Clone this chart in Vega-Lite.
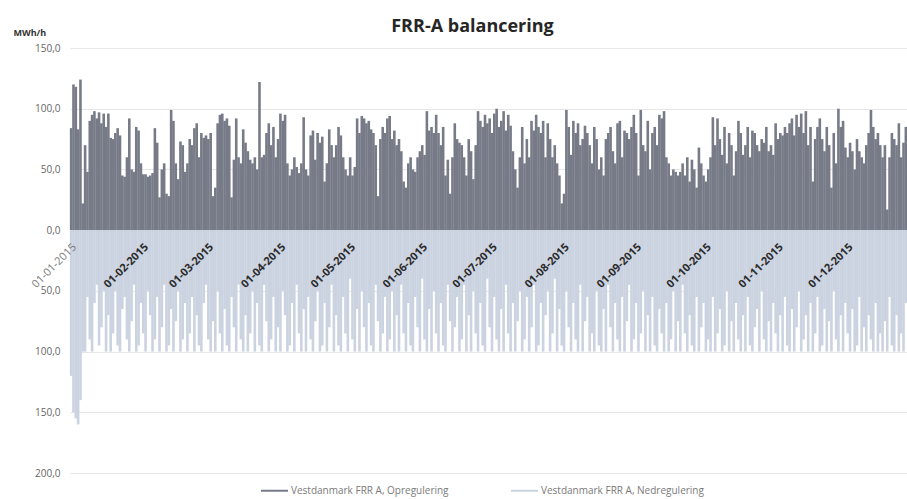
{
"$schema":"https://vega.github.io/schema/vega-lite/v6.json",
"width":837,"height":425,
"autosize":"none",
"padding":{"left":70,"top":48,"right":0,"bottom":26},
"background":"white",
"title":{"text":"FRR-A balancering","font":"Open Sans","fontSize":18,"fontWeight":"bold","color":"#262626","anchor":"middle","dx":-16,"offset":-8},
"data":{"values":[
{"d":"2015-01-01","u":84,"n":-120},{"d":"2015-01-02","u":120,"n":-150},{"d":"2015-01-03","u":118,"n":-155},{"d":"2015-01-04","u":83,"n":-160},{"d":"2015-01-05","u":124,"n":-140},{"d":"2015-01-06","u":22,"n":-100},{"d":"2015-01-07","u":70,"n":-100},{"d":"2015-01-08","u":48,"n":-55},{"d":"2015-01-09","u":90,"n":-90},{"d":"2015-01-10","u":95,"n":-100},{"d":"2015-01-11","u":98,"n":-60},{"d":"2015-01-12","u":92,"n":-45},{"d":"2015-01-13","u":97,"n":-95},{"d":"2015-01-14","u":88,"n":-80},{"d":"2015-01-15","u":96,"n":-50},{"d":"2015-01-16","u":85,"n":-100},{"d":"2015-01-17","u":96,"n":-70},{"d":"2015-01-18","u":76,"n":-100},{"d":"2015-01-19","u":75,"n":-85},{"d":"2015-01-20","u":80,"n":-50},{"d":"2015-01-21","u":84,"n":-95},{"d":"2015-01-22","u":78,"n":-100},{"d":"2015-01-23","u":45,"n":-65},{"d":"2015-01-24","u":44,"n":-55},{"d":"2015-01-25","u":60,"n":-90},{"d":"2015-01-26","u":92,"n":-100},{"d":"2015-01-27","u":50,"n":-75},{"d":"2015-01-28","u":48,"n":-45},{"d":"2015-01-29","u":85,"n":-100},{"d":"2015-01-30","u":82,"n":-95},{"d":"2015-01-31","u":55,"n":-60},
{"d":"2015-02-01","u":46,"n":-85},{"d":"2015-02-02","u":46,"n":-100},{"d":"2015-02-03","u":44,"n":-50},{"d":"2015-02-04","u":45,"n":-70},{"d":"2015-02-05","u":47,"n":-100},{"d":"2015-02-06","u":84,"n":-90},{"d":"2015-02-07","u":72,"n":-55},{"d":"2015-02-08","u":27,"n":-100},{"d":"2015-02-09","u":50,"n":-80},{"d":"2015-02-10","u":55,"n":-45},{"d":"2015-02-11","u":30,"n":-100},{"d":"2015-02-12","u":28,"n":-95},{"d":"2015-02-13","u":99,"n":-65},{"d":"2015-02-14","u":90,"n":-100},{"d":"2015-02-15","u":55,"n":-75},{"d":"2015-02-16","u":42,"n":-50},{"d":"2015-02-17","u":73,"n":-100},{"d":"2015-02-18","u":70,"n":-90},{"d":"2015-02-19","u":48,"n":-60},{"d":"2015-02-20","u":55,"n":-100},{"d":"2015-02-21","u":75,"n":-85},{"d":"2015-02-22","u":70,"n":-55},{"d":"2015-02-23","u":84,"n":-100},{"d":"2015-02-24","u":88,"n":-70},{"d":"2015-02-25","u":60,"n":-95},{"d":"2015-02-26","u":80,"n":-100},{"d":"2015-02-27","u":76,"n":-60},{"d":"2015-02-28","u":78,"n":-45},
{"d":"2015-03-01","u":75,"n":-90},{"d":"2015-03-02","u":80,"n":-100},{"d":"2015-03-03","u":28,"n":-75},{"d":"2015-03-04","u":35,"n":-100},{"d":"2015-03-05","u":88,"n":-50},{"d":"2015-03-06","u":95,"n":-85},{"d":"2015-03-07","u":96,"n":-100},{"d":"2015-03-08","u":90,"n":-65},{"d":"2015-03-09","u":92,"n":-95},{"d":"2015-03-10","u":86,"n":-100},{"d":"2015-03-11","u":27,"n":-55},{"d":"2015-03-12","u":58,"n":-80},{"d":"2015-03-13","u":92,"n":-100},{"d":"2015-03-14","u":60,"n":-45},{"d":"2015-03-15","u":55,"n":-90},{"d":"2015-03-16","u":83,"n":-100},{"d":"2015-03-17","u":72,"n":-70},{"d":"2015-03-18","u":65,"n":-100},{"d":"2015-03-19","u":58,"n":-85},{"d":"2015-03-20","u":55,"n":-50},{"d":"2015-03-21","u":60,"n":-100},{"d":"2015-03-22","u":50,"n":-60},{"d":"2015-03-23","u":122,"n":-95},{"d":"2015-03-24","u":60,"n":-100},{"d":"2015-03-25","u":62,"n":-45},{"d":"2015-03-26","u":80,"n":-75},{"d":"2015-03-27","u":88,"n":-100},{"d":"2015-03-28","u":70,"n":-90},{"d":"2015-03-29","u":85,"n":-55},{"d":"2015-03-30","u":60,"n":-100},{"d":"2015-03-31","u":75,"n":-80},
{"d":"2015-04-01","u":96,"n":-100},{"d":"2015-04-02","u":90,"n":-50},{"d":"2015-04-03","u":95,"n":-70},{"d":"2015-04-04","u":55,"n":-100},{"d":"2015-04-05","u":45,"n":-95},{"d":"2015-04-06","u":50,"n":-60},{"d":"2015-04-07","u":60,"n":-100},{"d":"2015-04-08","u":52,"n":-45},{"d":"2015-04-09","u":47,"n":-85},{"d":"2015-04-10","u":55,"n":-100},{"d":"2015-04-11","u":93,"n":-65},{"d":"2015-04-12","u":50,"n":-100},{"d":"2015-04-13","u":45,"n":-55},{"d":"2015-04-14","u":78,"n":-90},{"d":"2015-04-15","u":82,"n":-100},{"d":"2015-04-16","u":58,"n":-75},{"d":"2015-04-17","u":80,"n":-50},{"d":"2015-04-18","u":72,"n":-100},{"d":"2015-04-19","u":77,"n":-95},{"d":"2015-04-20","u":40,"n":-60},{"d":"2015-04-21","u":55,"n":-100},{"d":"2015-04-22","u":83,"n":-80},{"d":"2015-04-23","u":70,"n":-45},{"d":"2015-04-24","u":60,"n":-100},{"d":"2015-04-25","u":70,"n":-70},{"d":"2015-04-26","u":85,"n":-95},{"d":"2015-04-27","u":78,"n":-100},{"d":"2015-04-28","u":60,"n":-55},{"d":"2015-04-29","u":50,"n":-85},{"d":"2015-04-30","u":45,"n":-100},
{"d":"2015-05-01","u":60,"n":-40},{"d":"2015-05-02","u":45,"n":-90},{"d":"2015-05-03","u":52,"n":-100},{"d":"2015-05-04","u":92,"n":-65},{"d":"2015-05-05","u":80,"n":-100},{"d":"2015-05-06","u":94,"n":-50},{"d":"2015-05-07","u":92,"n":-80},{"d":"2015-05-08","u":88,"n":-100},{"d":"2015-05-09","u":90,"n":-60},{"d":"2015-05-10","u":83,"n":-95},{"d":"2015-05-11","u":80,"n":-100},{"d":"2015-05-12","u":70,"n":-45},{"d":"2015-05-13","u":28,"n":-75},{"d":"2015-05-14","u":75,"n":-100},{"d":"2015-05-15","u":85,"n":-85},{"d":"2015-05-16","u":80,"n":-55},{"d":"2015-05-17","u":92,"n":-100},{"d":"2015-05-18","u":94,"n":-90},{"d":"2015-05-19","u":75,"n":-50},{"d":"2015-05-20","u":82,"n":-100},{"d":"2015-05-21","u":70,"n":-70},{"d":"2015-05-22","u":75,"n":-100},{"d":"2015-05-23","u":65,"n":-45},{"d":"2015-05-24","u":40,"n":-85},{"d":"2015-05-25","u":35,"n":-100},{"d":"2015-05-26","u":55,"n":-60},{"d":"2015-05-27","u":60,"n":-95},{"d":"2015-05-28","u":50,"n":-100},{"d":"2015-05-29","u":48,"n":-55},{"d":"2015-05-30","u":60,"n":-80},{"d":"2015-05-31","u":65,"n":-100},
{"d":"2015-06-01","u":70,"n":-40},{"d":"2015-06-02","u":62,"n":-90},{"d":"2015-06-03","u":98,"n":-100},{"d":"2015-06-04","u":82,"n":-65},{"d":"2015-06-05","u":85,"n":-100},{"d":"2015-06-06","u":80,"n":-50},{"d":"2015-06-07","u":95,"n":-85},{"d":"2015-06-08","u":80,"n":-100},{"d":"2015-06-09","u":70,"n":-60},{"d":"2015-06-10","u":85,"n":-95},{"d":"2015-06-11","u":45,"n":-100},{"d":"2015-06-12","u":58,"n":-45},{"d":"2015-06-13","u":30,"n":-75},{"d":"2015-06-14","u":60,"n":-100},{"d":"2015-06-15","u":88,"n":-80},{"d":"2015-06-16","u":75,"n":-55},{"d":"2015-06-17","u":72,"n":-100},{"d":"2015-06-18","u":70,"n":-90},{"d":"2015-06-19","u":60,"n":-45},{"d":"2015-06-20","u":45,"n":-100},{"d":"2015-06-21","u":75,"n":-70},{"d":"2015-06-22","u":65,"n":-100},{"d":"2015-06-23","u":42,"n":-50},{"d":"2015-06-24","u":70,"n":-85},{"d":"2015-06-25","u":98,"n":-100},{"d":"2015-06-26","u":90,"n":-60},{"d":"2015-06-27","u":85,"n":-95},{"d":"2015-06-28","u":95,"n":-100},{"d":"2015-06-29","u":88,"n":-40},{"d":"2015-06-30","u":92,"n":-80},
{"d":"2015-07-01","u":80,"n":-100},{"d":"2015-07-02","u":96,"n":-55},{"d":"2015-07-03","u":100,"n":-90},{"d":"2015-07-04","u":85,"n":-100},{"d":"2015-07-05","u":90,"n":-65},{"d":"2015-07-06","u":98,"n":-100},{"d":"2015-07-07","u":82,"n":-45},{"d":"2015-07-08","u":95,"n":-85},{"d":"2015-07-09","u":86,"n":-100},{"d":"2015-07-10","u":65,"n":-60},{"d":"2015-07-11","u":50,"n":-100},{"d":"2015-07-12","u":35,"n":-75},{"d":"2015-07-13","u":60,"n":-50},{"d":"2015-07-14","u":85,"n":-100},{"d":"2015-07-15","u":55,"n":-90},{"d":"2015-07-16","u":75,"n":-55},{"d":"2015-07-17","u":60,"n":-100},{"d":"2015-07-18","u":90,"n":-80},{"d":"2015-07-19","u":82,"n":-45},{"d":"2015-07-20","u":95,"n":-100},{"d":"2015-07-21","u":85,"n":-95},{"d":"2015-07-22","u":80,"n":-60},{"d":"2015-07-23","u":90,"n":-100},{"d":"2015-07-24","u":60,"n":-70},{"d":"2015-07-25","u":88,"n":-50},{"d":"2015-07-26","u":75,"n":-100},{"d":"2015-07-27","u":60,"n":-85},{"d":"2015-07-28","u":70,"n":-40},{"d":"2015-07-29","u":55,"n":-100},{"d":"2015-07-30","u":45,"n":-65},{"d":"2015-07-31","u":22,"n":-95},
{"d":"2015-08-01","u":30,"n":-100},{"d":"2015-08-02","u":99,"n":-50},{"d":"2015-08-03","u":85,"n":-80},{"d":"2015-08-04","u":62,"n":-100},{"d":"2015-08-05","u":90,"n":-60},{"d":"2015-08-06","u":80,"n":-90},{"d":"2015-08-07","u":88,"n":-100},{"d":"2015-08-08","u":70,"n":-45},{"d":"2015-08-09","u":75,"n":-100},{"d":"2015-08-10","u":86,"n":-75},{"d":"2015-08-11","u":80,"n":-55},{"d":"2015-08-12","u":70,"n":-100},{"d":"2015-08-13","u":55,"n":-85},{"d":"2015-08-14","u":85,"n":-100},{"d":"2015-08-15","u":75,"n":-50},{"d":"2015-08-16","u":50,"n":-95},{"d":"2015-08-17","u":60,"n":-100},{"d":"2015-08-18","u":45,"n":-65},{"d":"2015-08-19","u":75,"n":-100},{"d":"2015-08-20","u":80,"n":-45},{"d":"2015-08-21","u":85,"n":-80},{"d":"2015-08-22","u":65,"n":-100},{"d":"2015-08-23","u":55,"n":-60},{"d":"2015-08-24","u":88,"n":-90},{"d":"2015-08-25","u":90,"n":-100},{"d":"2015-08-26","u":60,"n":-55},{"d":"2015-08-27","u":82,"n":-100},{"d":"2015-08-28","u":80,"n":-75},{"d":"2015-08-29","u":75,"n":-45},{"d":"2015-08-30","u":85,"n":-100},{"d":"2015-08-31","u":95,"n":-90},
{"d":"2015-09-01","u":80,"n":-60},{"d":"2015-09-02","u":45,"n":-100},{"d":"2015-09-03","u":99,"n":-85},{"d":"2015-09-04","u":70,"n":-50},{"d":"2015-09-05","u":65,"n":-100},{"d":"2015-09-06","u":90,"n":-70},{"d":"2015-09-07","u":50,"n":-100},{"d":"2015-09-08","u":80,"n":-55},{"d":"2015-09-09","u":85,"n":-95},{"d":"2015-09-10","u":70,"n":-100},{"d":"2015-09-11","u":95,"n":-65},{"d":"2015-09-12","u":92,"n":-85},{"d":"2015-09-13","u":98,"n":-100},{"d":"2015-09-14","u":60,"n":-60},{"d":"2015-09-15","u":55,"n":-100},{"d":"2015-09-16","u":45,"n":-90},{"d":"2015-09-17","u":50,"n":-50},{"d":"2015-09-18","u":48,"n":-100},{"d":"2015-09-19","u":45,"n":-75},{"d":"2015-09-20","u":48,"n":-100},{"d":"2015-09-21","u":55,"n":-45},{"d":"2015-09-22","u":45,"n":-85},{"d":"2015-09-23","u":60,"n":-100},{"d":"2015-09-24","u":40,"n":-70},{"d":"2015-09-25","u":58,"n":-95},{"d":"2015-09-26","u":50,"n":-100},{"d":"2015-09-27","u":35,"n":-55},{"d":"2015-09-28","u":68,"n":-100},{"d":"2015-09-29","u":55,"n":-80},{"d":"2015-09-30","u":45,"n":-60},
{"d":"2015-10-01","u":40,"n":-100},{"d":"2015-10-02","u":50,"n":-90},{"d":"2015-10-03","u":60,"n":-100},{"d":"2015-10-04","u":93,"n":-55},{"d":"2015-10-05","u":70,"n":-100},{"d":"2015-10-06","u":92,"n":-85},{"d":"2015-10-07","u":75,"n":-65},{"d":"2015-10-08","u":62,"n":-100},{"d":"2015-10-09","u":85,"n":-95},{"d":"2015-10-10","u":55,"n":-50},{"d":"2015-10-11","u":80,"n":-100},{"d":"2015-10-12","u":70,"n":-75},{"d":"2015-10-13","u":45,"n":-100},{"d":"2015-10-14","u":65,"n":-60},{"d":"2015-10-15","u":90,"n":-90},{"d":"2015-10-16","u":80,"n":-100},{"d":"2015-10-17","u":62,"n":-70},{"d":"2015-10-18","u":70,"n":-100},{"d":"2015-10-19","u":85,"n":-55},{"d":"2015-10-20","u":60,"n":-95},{"d":"2015-10-21","u":82,"n":-100},{"d":"2015-10-22","u":80,"n":-80},{"d":"2015-10-23","u":70,"n":-65},{"d":"2015-10-24","u":65,"n":-100},{"d":"2015-10-25","u":75,"n":-50},{"d":"2015-10-26","u":72,"n":-90},{"d":"2015-10-27","u":85,"n":-100},{"d":"2015-10-28","u":65,"n":-75},{"d":"2015-10-29","u":70,"n":-100},{"d":"2015-10-30","u":62,"n":-60},{"d":"2015-10-31","u":88,"n":-85},
{"d":"2015-11-01","u":75,"n":-100},{"d":"2015-11-02","u":80,"n":-70},{"d":"2015-11-03","u":78,"n":-100},{"d":"2015-11-04","u":85,"n":-55},{"d":"2015-11-05","u":80,"n":-95},{"d":"2015-11-06","u":88,"n":-100},{"d":"2015-11-07","u":92,"n":-65},{"d":"2015-11-08","u":78,"n":-100},{"d":"2015-11-09","u":95,"n":-80},{"d":"2015-11-10","u":85,"n":-50},{"d":"2015-11-11","u":96,"n":-100},{"d":"2015-11-12","u":80,"n":-90},{"d":"2015-11-13","u":98,"n":-70},{"d":"2015-11-14","u":70,"n":-100},{"d":"2015-11-15","u":85,"n":-60},{"d":"2015-11-16","u":40,"n":-100},{"d":"2015-11-17","u":75,"n":-85},{"d":"2015-11-18","u":85,"n":-55},{"d":"2015-11-19","u":92,"n":-100},{"d":"2015-11-20","u":75,"n":-95},{"d":"2015-11-21","u":65,"n":-65},{"d":"2015-11-22","u":85,"n":-100},{"d":"2015-11-23","u":70,"n":-75},{"d":"2015-11-24","u":35,"n":-100},{"d":"2015-11-25","u":80,"n":-50},{"d":"2015-11-26","u":55,"n":-90},{"d":"2015-11-27","u":100,"n":-100},{"d":"2015-11-28","u":85,"n":-70},{"d":"2015-11-29","u":90,"n":-100},{"d":"2015-11-30","u":68,"n":-60},
{"d":"2015-12-01","u":60,"n":-85},{"d":"2015-12-02","u":72,"n":-100},{"d":"2015-12-03","u":65,"n":-65},{"d":"2015-12-04","u":50,"n":-100},{"d":"2015-12-05","u":75,"n":-95},{"d":"2015-12-06","u":65,"n":-55},{"d":"2015-12-07","u":60,"n":-100},{"d":"2015-12-08","u":55,"n":-80},{"d":"2015-12-09","u":70,"n":-100},{"d":"2015-12-10","u":80,"n":-70},{"d":"2015-12-11","u":99,"n":-90},{"d":"2015-12-12","u":85,"n":-100},{"d":"2015-12-13","u":75,"n":-60},{"d":"2015-12-14","u":80,"n":-100},{"d":"2015-12-15","u":70,"n":-85},{"d":"2015-12-16","u":60,"n":-100},{"d":"2015-12-17","u":70,"n":-75},{"d":"2015-12-18","u":17,"n":-100},{"d":"2015-12-19","u":60,"n":-55},{"d":"2015-12-20","u":80,"n":-95},{"d":"2015-12-21","u":75,"n":-100},{"d":"2015-12-22","u":70,"n":-70},{"d":"2015-12-23","u":88,"n":-100},{"d":"2015-12-24","u":60,"n":-85},{"d":"2015-12-25","u":72,"n":-100},{"d":"2015-12-26","u":85,"n":-60}
]},
"transform":[{"fold":["u","n"],"as":["s","v"]}],
"mark":{"type":"bar","width":2.6},
"encoding":{
"x":{"field":"d","type":"temporal","timeUnit":"utcyearmonthdate",
"scale":{"type":"utc","domain":[{"year":2015,"month":1,"date":1,"utc":true},{"year":2015,"month":12,"date":27,"utc":true}]},
"axis":{"title":null,"orient":"bottom","offset":-243,"zindex":2,"domain":false,"ticks":false,"grid":false,"format":"%d-%m-%Y","tickCount":{"interval":"month","step":1},"labelAngle":-45,"labelAlign":"right","labelBaseline":"top","labelPadding":11,"labelFont":"Open Sans","labelFontSize":11,"labelFontWeight":{"condition":{"test":"utcmonth(datum.value)==0","value":"normal"},"value":"bold"},"labelColor":{"condition":{"test":"utcmonth(datum.value)==0","value":"#7a7a7a"},"value":"#2b2b2b"},"labelOverlap":false,"labelFlush":false}},
"y":{"field":"v","type":"quantitative","stack":null,
"scale":{"domain":[-200,150],"nice":false,"zero":false},
"axis":{"title":"MWh/h","titleAngle":0,"titleAlign":"left","titleBaseline":"alphabetic","titleX":-57,"titleY":-13,"titleFont":"Open Sans","titleFontSize":9,"titleFontWeight":"bold","titleColor":"#333333",
"values":[-200,-150,-100,-50,0,50,100,150],"labelExpr":"replace(format(abs(datum.value),'.1f'),'.',',')","labelFont":"Open Sans","labelFontSize":10,"labelColor":"#666666","labelPadding":10,"domain":false,"ticks":false,"grid":true,"gridColor":"#e6e6e6"}},
"color":{"field":"s","type":"nominal","scale":{"domain":["u","n"],"range":["#767b87","#cbd3e1"]},
"legend":{"title":null,"orient":"none","direction":"horizontal","legendX":190,"legendY":428,"symbolType":"stroke","symbolSize":729,"symbolStrokeWidth":2,"labelFont":"Open Sans","labelFontSize":10,"labelColor":"#7a7a7a","columnPadding":58,"labelOffset":2,"labelLimit":300,
"labelExpr":"datum.value=='u' ? 'Vestdanmark FRR A, Opregulering' : 'Vestdanmark FRR A, Nedregulering'",
"encode":{"symbols":{"update":{"stroke":{"scale":"color","field":"value"},"strokeWidth":{"value":2}}}}}}
},
"config":{"view":{"stroke":null}}
}
